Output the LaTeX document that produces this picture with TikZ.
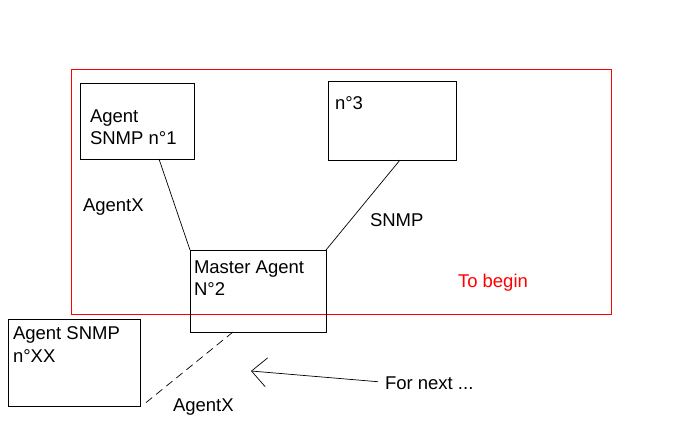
\documentclass[tikz,border=0pt]{standalone}
\usepackage{fontspec}
\setmainfont{Liberation Sans}
\usetikzlibrary{arrows.meta}
\begin{document}
\begin{tikzpicture}[x=1bp,y=-1bp,
  box/.style={draw=black,line width=0.8bp,minimum width=#1,inner sep=0pt,outer sep=0pt},
  txt/.style={anchor=base west,inner sep=0pt,outer sep=0pt,font=\fontsize{18.5bp}{22bp}\selectfont},
  link/.style={draw=black,line width=0.7bp}]
\useasboundingbox (0,0) rectangle (694,434);
\fill[white] (0,0) rectangle (694,434);
% red frame
\node[draw=red,line width=0.9bp,minimum width=540bp,minimum height=245bp,inner sep=0pt] (frame) at (341.5,191.5) {};
% boxes
\node[box=114bp,minimum height=76bp] (a1) at (137,121) {};
\node[box=128bp,minimum height=79bp] (a3) at (392,120.5) {};
\node[box=136bp,minimum height=82bp,fill=none] (ma) at (258,291) {};
\node[box=132bp,minimum height=87bp] (xx) at (74.5,362.5) {};
% box texts
\node[txt] (t1a) at (90,123) {Agent};
\node[txt] (t1b) at (90,145) {SNMP n°1};
\node[txt] (t3) at (335,110) {n°3};
\node[txt] (tma) at (194,274) {Master Agent};
\node[txt] (tmb) at (194,296) {N°2};
\node[txt] (txa) at (13,340) {Agent SNMP};
\node[txt] (txb) at (13,362) {n°XX};
% labels
\node[txt] (lax1) at (83,212) {AgentX};
\node[txt] (lsnmp) at (370,227) {SNMP};
\node[txt,text=red] (lbegin) at (458,288) {To begin};
\node[txt] (lax2) at (173,411) {AgentX};
\node[txt] (lnext) at (385,389) {For next ...};
% connectors
\draw[link] ([xshift=22bp]a1.south) -- (ma.north west);
\draw[link] ([xshift=8bp]a3.south) -- (ma.north east);
\draw[link,dash pattern=on 8bp off 5bp] ([xshift=-25bp]ma.south) -- ([xshift=5bp,yshift=3bp]xx.south east);
\coordinate (tip) at (251,371);
\draw[link,-{Straight Barb[length=15bp,width=29bp]}] ([xshift=-7bp,yshift=1bp]lnext.west) -- (tip);
\end{tikzpicture}
\end{document}
